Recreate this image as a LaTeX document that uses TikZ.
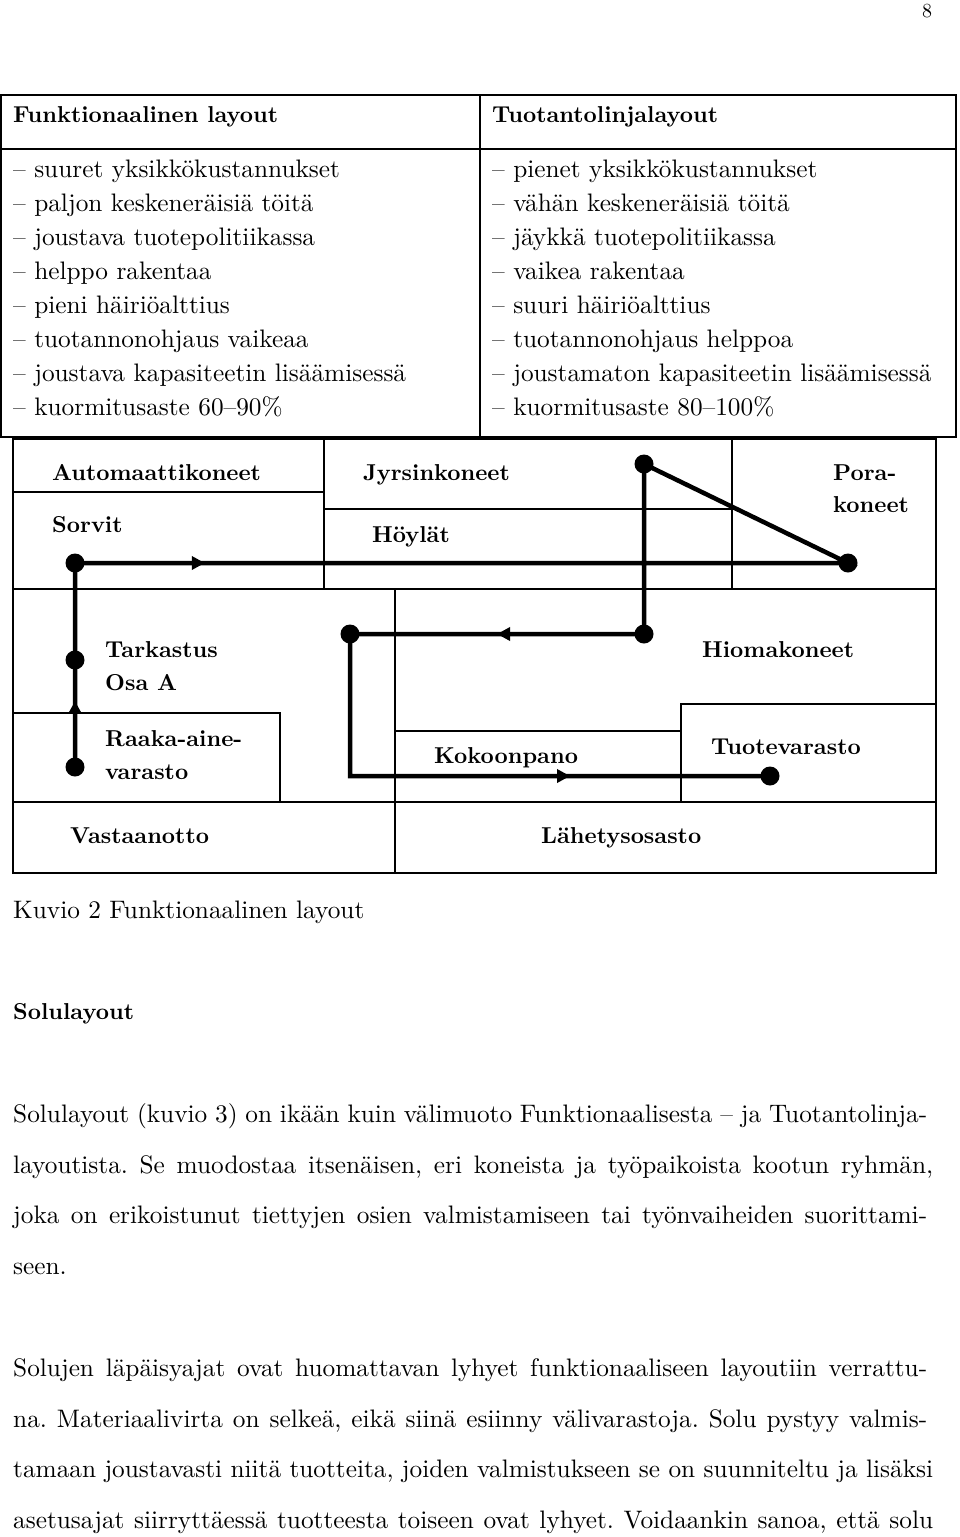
\documentclass[tikz,border=0pt]{standalone}
\usepackage{fontspec}
\setmainfont{lmroman10-regular.otf}[BoldFont=lmroman10-bold.otf]
\usetikzlibrary{decorations.markings,arrows.meta}
\frenchspacing
\tikzset{
  rule/.style={line width=1.3pt},
  flow/.style={line width=4.5pt, line join=miter},
  dot/.style={circle, fill=black, inner sep=0pt, minimum size=19pt},
  lbl/.style={anchor=base west, inner sep=0pt, font=\fontsize{23}{28}\bfseries\selectfont},
  hdr/.style={anchor=base west, inner sep=0pt, font=\fontsize{23}{28}\bfseries\selectfont},
  item/.style={anchor=base west, inner sep=0pt, font=\fontsize{25.3}{30}\selectfont},
  body/.style={anchor=base west, inner sep=0pt, font=\fontsize{25.3}{30}\selectfont},
  pagenum/.style={anchor=base west, inner sep=0pt, font=\fontsize{20}{24}\selectfont},
  arrowat/.style={postaction={decorate, decoration={markings,
      mark=at position #1 with {\arrow{Triangle[length=13pt,width=13pt]}}}}},
}
\begin{document}
\frenchspacing
\begin{tikzpicture}[x=1pt,y=-1pt]
\useasboundingbox (0,0) rectangle (960,1537);
\fill[white] (0,0) rectangle (960,1537);

% page number
\node[pagenum] (pg) at (922,17) {8};

% ---------- comparison table ----------
\draw[rule] (1,95) rectangle (956,437);
\draw[rule] (1,149) -- (956,149);
\draw[rule] (480,95) -- (480,437);

\node[hdr] (hl) at (13,122) {Funktionaalinen layout};
\node[hdr] (hr) at (492,122) {Tuotantolinjalayout};

\node[item] (l1) at (13,177) {– suuret yksikkökustannukset};
\node[item] (l2) at (13,211) {– paljon keskeneräisiä töitä};
\node[item] (l3) at (13,245) {– joustava tuotepolitiikassa};
\node[item] (l4) at (13,279) {– helppo rakentaa};
\node[item] (l5) at (13,313) {– pieni häiriöalttius};
\node[item] (l6) at (13,347) {– tuotannonohjaus vaikeaa};
\node[item] (l7) at (13,381) {– joustava kapasiteetin lisäämisessä};
\node[item] (l8) at (13,415) {– kuormitusaste 60–90\%};

\node[item] (r1) at (492,177) {– pienet yksikkökustannukset};
\node[item] (r2) at (492,211) {– vähän keskeneräisiä töitä};
\node[item] (r3) at (492,245) {– jäykkä tuotepolitiikassa};
\node[item] (r4) at (492,279) {– vaikea rakentaa};
\node[item] (r5) at (492,313) {– suuri häiriöalttius};
\node[item] (r6) at (492,347) {– tuotannonohjaus helppoa};
\node[item] (r7) at (492,381) {– joustamaton kapasiteetin lisäämisessä};
\node[item] (r8) at (492,415) {– kuormitusaste 80–100\%};

% ---------- layout plan ----------
\draw[rule] (13,439) rectangle (936,873);
\draw[rule] (13,492) -- (324,492);
\draw[rule] (324,439) -- (324,589);
\draw[rule] (324,509) -- (732,509);
\draw[rule] (732,439) -- (732,589);
\draw[rule] (13,589) -- (936,589);
\draw[rule] (395,589) -- (395,873);
\draw[rule] (13,713) -- (280,713) -- (280,802);
\draw[rule] (13,802) -- (936,802);
\draw[rule] (395,731) -- (681,731);
\draw[rule] (681,802) -- (681,704) -- (936,704);

\node[lbl] (automaatti) at (52,480) {Automaattikoneet};
\node[lbl] (sorvit) at (52,532) {Sorvit};
\node[lbl] (jyrsin) at (363,480) {Jyrsinkoneet};
\node[lbl] (hoylat) at (372,542) {Höylät};
\node[lbl] (poraA) at (833,480) {Pora-};
\node[lbl] (poraB) at (833,512) {koneet};
\node[lbl] (tarkA) at (105,657) {Tarkastus};
\node[lbl] (tarkB) at (105,690) {Osa A};
\node[lbl] (raakaA) at (105,746) {Raaka-aine-};
\node[lbl] (raakaB) at (105,779) {varasto};
\node[lbl] (vast) at (70,843) {Vastaanotto};
\node[lbl] (hioma) at (702,657) {Hiomakoneet};
\node[lbl] (kokoon) at (434,763) {Kokoonpano};
\node[lbl] (tuotev) at (711,754) {Tuotevarasto};
\node[lbl] (lahet) at (541,843) {Lähetysosasto};

% flow dots
\node[dot] (raaka) at (75,767) {};
\node[dot] (tark) at (75,660) {};
\node[dot] (sorv) at (75,563) {};
\node[dot] (pora) at (848,563) {};
\node[dot] (jyrs) at (644,464) {};
\node[dot] (hiom) at (644,634) {};
\node[dot] (kokA) at (350,634) {};
\node[dot] (tuote) at (770,776) {};
\coordinate (bend) at (kokA |- tuote);

\draw[flow] (raaka.center) -- (tark.center) -- (sorv.center) -- (pora.center)
  -- (jyrs.center) -- (hiom.center) -- (kokA.center) -- (bend) -- (tuote.center);
\draw[flow, arrowat=0.617] (raaka.center) -- (tark.center);
\draw[flow, arrowat=0.168] (sorv.center) -- (pora.center);
\draw[flow, arrowat=0.5] (hiom.center) -- (kokA.center);
\draw[flow, arrowat=0.524] (bend) -- (tuote.center);

% ---------- caption and text ----------
\node[body] (cap) at (13,918) {Kuvio 2 Funktionaalinen layout};
\node[hdr] (sol) at (13,1019) {Solulayout};

\node[body] (p1a) at (13,1122) {\makebox[914pt][s]{Solulayout (kuvio 3) on ikään kuin välimuoto Funktionaalisesta – ja Tuotantolinja-}};
\node[body] (p1b) at (13,1173) {\makebox[920pt][s]{layoutista. Se muodostaa itsenäisen, eri koneista ja työpaikoista kootun ryhmän,}};
\node[body] (p1c) at (13,1223) {\makebox[914pt][s]{joka on erikoistunut tiettyjen osien valmistamiseen tai työnvaiheiden suorittami-}};
\node[body] (p1d) at (13,1274) {seen.};

\node[body] (p2a) at (13,1376) {\makebox[914pt][s]{Solujen läpäisyajat ovat huomattavan lyhyet funktionaaliseen layoutiin verrattu-}};
\node[body] (p2b) at (13,1427) {\makebox[914pt][s]{na. Materiaalivirta on selkeä, eikä siinä esiinny välivarastoja. Solu pystyy valmis-}};
\node[body] (p2c) at (13,1477) {\makebox[920pt][s]{tamaan joustavasti niitä tuotteita, joiden valmistukseen se on suunniteltu ja lisäksi}};
\node[body] (p2d) at (13,1528) {\makebox[920pt][s]{asetusajat siirryttäessä tuotteesta toiseen ovat lyhyet. Voidaankin sanoa, että solu}};
\end{tikzpicture}
\end{document}
